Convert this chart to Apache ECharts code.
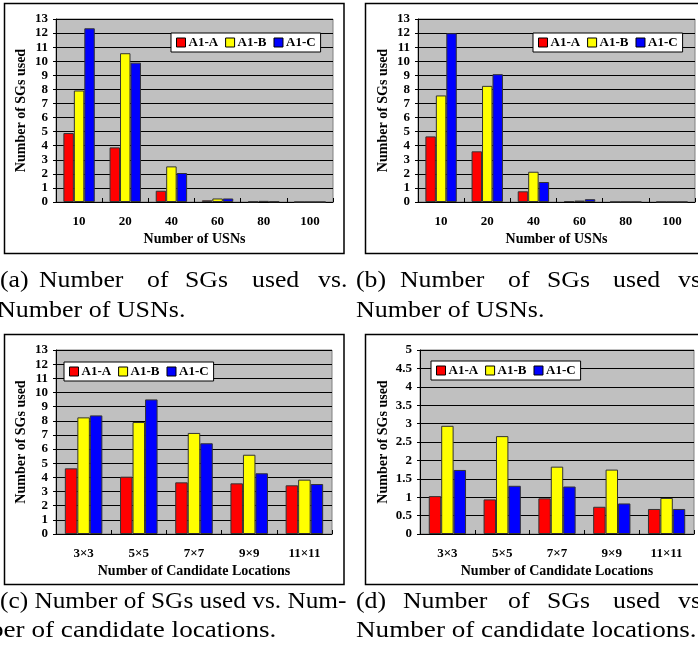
<!DOCTYPE html>
<html>
<head>
<meta charset="utf-8">
<script src="https://cdn.jsdelivr.net/npm/echarts@6/dist/echarts.min.js"></script>
<style>html,body{margin:0;padding:0;background:#fff;}#c{width:698px;height:653px;}</style>
</head>
<body>
<div id="c"></div>
<script>
// ---- data ----
const seriesNames = ['A1-A', 'A1-B', 'A1-C'];
const usnCats = ['10', '20', '40', '60', '80', '100'];
const candCats = ['3×3', '5×5', '7×7', '9×9', '11×11'];
const yTicks13 = [0, 13, 1];
const yTicks5 = [0, 5, 0.5];

const aA = [4.9, 3.88, 0.8, 0.12, 0.03, 0.0];
const aB = [7.92, 10.57, 2.53, 0.25, 0.08, 0.0];
const aC = [12.34, 9.9, 2.06, 0.25, 0.04, 0.0];

const bA = [4.66, 3.6, 0.76, 0.07, 0.01, 0.01];
const bB = [7.57, 8.25, 2.15, 0.1, 0.01, 0.01];
const bC = [11.99, 9.08, 1.42, 0.2, 0.01, 0.01];

const cA = [4.64, 4.05, 3.65, 3.58, 3.44];
const cB = [8.24, 7.91, 7.14, 5.6, 3.84];
const cC = [8.38, 9.51, 6.41, 4.29, 3.53];

const dA = [1.03, 0.94, 0.97, 0.74, 0.68];
const dB = [2.94, 2.66, 1.83, 1.75, 0.98];
const dC = [1.74, 1.31, 1.29, 0.83, 0.68];

const xNameUSN = 'Number of USNs';
const xNameCand = 'Number of Candidate Locations';
const yName = 'Number of SGs used';

// ---- styling ----
const colors = ['#ff0000', '#ffff00', '#0000ff'];
const F = 'Liberation Serif';
const CF = 'Liberation Serif';

const panels = [
  {cats: usnCats, data: [aA, aB, aC], xName: xNameUSN, y: yTicks13,
   grid: {left: 56, top: 19, width: 277, height: 183}, legend: {left: 171, top: 33}, nameGap: 28},
  {cats: usnCats, data: [bA, bB, bC], xName: xNameUSN, y: yTicks13,
   grid: {left: 418, top: 19, width: 277, height: 183}, legend: {left: 533, top: 33}, nameGap: 28},
  {cats: candCats, data: [cA, cB, cC], xName: xNameCand, y: yTicks13,
   grid: {left: 56, top: 350, width: 276, height: 184}, legend: {left: 64, top: 362}, nameGap: 28},
  {cats: candCats, data: [dA, dB, dC], xName: xNameCand, y: yTicks5,
   grid: {left: 420, top: 350, width: 274, height: 184}, legend: {left: 431, top: 361}, nameGap: 30}
];

const grids = [], xAxes = [], yAxes = [], series = [], legends = [];
panels.forEach((p, i) => {
  grids.push(Object.assign({show: true, backgroundColor: '#c0c0c0', borderColor: '#808080', borderWidth: 1}, p.grid));
  xAxes.push({
    type: 'category', gridIndex: i, data: p.cats,
    name: p.xName, nameLocation: 'middle', nameGap: 30,
    nameTextStyle: {fontFamily: F, fontWeight: 'bold', fontSize: 14, color: '#000'},
    axisLine: {lineStyle: {color: '#000', width: 1}},
    axisTick: {show: true, inside: true, length: 4, lineStyle: {color: '#000'}},
    axisLabel: {fontFamily: F, fontWeight: 'bold', fontSize: 13, color: '#000', margin: 13},
    splitLine: {show: false}
  });
  yAxes.push({
    type: 'value', gridIndex: i, min: p.y[0], max: p.y[1], interval: p.y[2],
    name: yName, nameLocation: 'middle', nameGap: p.nameGap,
    nameTextStyle: {fontFamily: F, fontWeight: 'bold', fontSize: 14, color: '#000'},
    axisLine: {show: true, lineStyle: {color: '#000', width: 1}},
    axisTick: {show: true, length: 3, lineStyle: {color: '#000'}},
    axisLabel: {fontFamily: F, fontWeight: 'bold', fontSize: 13, color: '#000', margin: 8},
    splitLine: {show: true, lineStyle: {color: '#000', width: 1}}
  });
  seriesNames.forEach((n, k) => {
    series.push({
      type: 'bar', name: n, xAxisIndex: i, yAxisIndex: i, data: p.data[k],
      barGap: '0%', barCategoryGap: '32%',
      itemStyle: {color: colors[k], borderColor: '#333', borderWidth: 1},
      animation: false
    });
  });
  legends.push({
    data: seriesNames, left: p.legend.left, top: p.legend.top, orient: 'horizontal',
    backgroundColor: '#fff', borderColor: '#000', borderWidth: 1, padding: [3, 5],
    itemWidth: 9, itemHeight: 9, itemGap: 7, icon: 'rect',
    itemStyle: {borderColor: '#000', borderWidth: 1},
    textStyle: {fontFamily: F, fontWeight: 'bold', fontSize: 13, color: '#000', padding: [0, 0, 0, -2]},
    selectedMode: false
  });
});

// frames and captions
const graphics = [
  {type: 'rect', shape: {x: 4.5, y: 3.5, width: 339.5, height: 250}, style: {fill: 'none', stroke: '#000', lineWidth: 1.5}},
  {type: 'rect', shape: {x: 365.5, y: 3.5, width: 400, height: 250}, style: {fill: 'none', stroke: '#000', lineWidth: 1.5}},
  {type: 'rect', shape: {x: 4.5, y: 334.5, width: 339.5, height: 250}, style: {fill: 'none', stroke: '#000', lineWidth: 1.5}},
  {type: 'rect', shape: {x: 365.5, y: 334.5, width: 400, height: 250}, style: {fill: 'none', stroke: '#000', lineWidth: 1.5}}
];
const captionWords = [
  // [text, x, y, scaleX]
  ['(a)', 0, 281, 1.12], ['Number', 39, 281, 1.12], ['of', 147, 281, 1.12], ['SGs', 185, 281, 1.12], ['used', 252, 281, 1.12], ['vs.', 318, 281, 1.12],
  ['Number of USNs.', -3, 311, 1.13],
  ['(b)', 356, 281, 1.12], ['Number', 400, 281, 1.12], ['of', 508, 281, 1.12], ['SGs', 547, 281, 1.12], ['used', 613, 281, 1.12], ['vs.', 678, 281, 1.12],
  ['Number of USNs.', 356, 311, 1.13],
  ['(c) Number of SGs used vs. Num-', 0, 602, 1.1],
  ['ber of candidate locations.', -10, 631, 1.18],
  ['(d)', 356, 602, 1.12], ['Number', 403, 602, 1.12], ['of', 508, 602, 1.12], ['SGs', 547, 602, 1.12], ['used', 613, 602, 1.12], ['vs.', 678, 602, 1.12],
  ['Number of candidate locations.', 356, 631, 1.18]
];
captionWords.forEach(w => {
  graphics.push({type: 'text', x: w[1], y: w[2], scaleX: w[3],
    style: {text: w[0], fill: '#000', font: '23px "' + CF + '"', textVerticalAlign: 'middle', verticalAlign: 'middle', align: 'left'}});
});

const chart = echarts.init(document.getElementById('c'), null, {renderer: 'canvas'});
chart.setOption({
  animation: false,
  grid: grids, xAxis: xAxes, yAxis: yAxes, series: series, legend: legends,
  graphic: {elements: graphics}
});
</script>
</body>
</html>
